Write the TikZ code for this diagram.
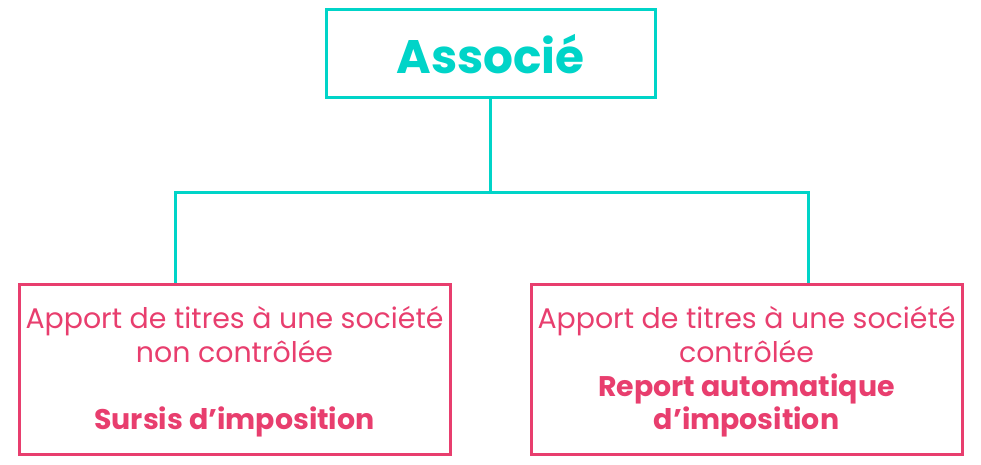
\documentclass[tikz,border=0pt]{standalone}
\usepackage{fontspec}
\setmainfont{Poppins}
\usetikzlibrary{positioning}
\definecolor{assocteal}{RGB}{0,212,200}
\definecolor{apportpink}{RGB}{232,62,110}
\tikzset{
  headbox/.style={draw=assocteal, line width=3pt, text=assocteal,
    minimum width=329pt, minimum height=88pt, inner sep=0pt,
    font=\fontsize{47}{56}\selectfont\bfseries},
  casebox/.style={draw=apportpink, line width=3pt,
    minimum width=431pt, minimum height=170pt, inner sep=0pt},
  casetext/.style={text=apportpink, inner sep=0pt, align=center,
    font=\fontsize{28.4}{33.7}\selectfont},
  link/.style={draw=assocteal, line width=3pt}
}
\begin{document}
\begin{tikzpicture}[x=1pt,y=-1pt]
  \useasboundingbox (0,0) rectangle (981,465);
  \node[headbox] (assoc) at (490.5,54) {Associé};

  \node[casebox] (noncontrol) at (234.5,369) {};
  \node[casetext, yshift=-3pt] (noncontroltext) at (noncontrol.center)
    {Apport de titres à une société\\non contrôlée\\ \\\textbf{Sursis d’imposition}};
  \node[casebox] (control) at (746.5,369) {};
  \node[casetext, yshift=-3pt] (controltext) at (control.center)
    {Apport de titres à une société\\contrôlée\\\textbf{Report automatique}\\\textbf{d’imposition}};

  % branches
  \coordinate (fork) at (490.5,192);
  \draw[link] (assoc.south) -- (fork);
  \draw[link] (fork) -| ([xshift=-59.5pt]noncontrol.north);
  \draw[link] (fork) -| ([xshift=61.5pt]control.north);
\end{tikzpicture}
\end{document}
